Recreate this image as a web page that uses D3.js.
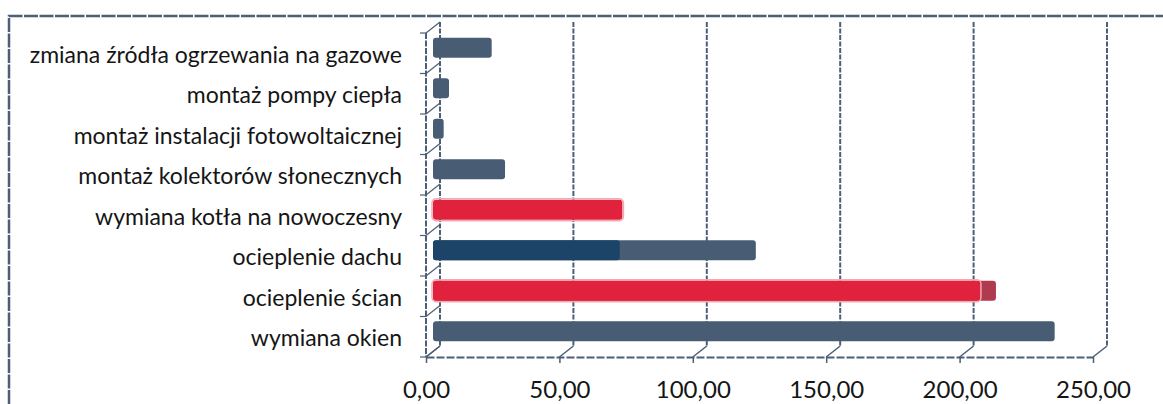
<!DOCTYPE html>
<html>
<head>
<meta charset="utf-8">
<script src="https://cdn.jsdelivr.net/npm/d3@7"></script>
<style>
  html, body { margin: 0; padding: 0; background: #fff; }
  svg { display: block; }
  text { font-family: Lato, "Noto Sans", sans-serif; fill: #151515; }
</style>
</head>
<body>
<svg id="chart" width="1163" height="404"></svg>
<script>
// Categories from top to bottom
const categories = [
  "zmiana źródła ogrzewania na gazowe",
  "montaż pompy ciepła",
  "montaż instalacji fotowoltaicznej",
  "montaż kolektorów słonecznych",
  "wymiana kotła na nowoczesny",
  "ocieplenie dachu",
  "ocieplenie ścian",
  "wymiana okien"
];
// Bar lengths
const values = [22, 6, 4, 27, 71, 121, 211, 233];
// Highlighted inner part of some bars (0 = none)
const highlightValues = [0, 0, 0, 0, 0, 70, 205, 0];

const tickValues = [0, 50, 100, 150, 200, 250];
const tickLabels = ["0,00", "50,00", "100,00", "150,00", "200,00", "250,00"];

const SLATE = "#485d74", RED = "#e0223c", DARK_RED = "#b03a4e", NAVY = "#1c4468";
const barColors = [SLATE, SLATE, SLATE, SLATE, RED, SLATE, DARK_RED, SLATE];
const highlightColors = [null, null, null, null, null, NAVY, RED, null];
const AXIS = "#4b5f76";

const svg = d3.select("#chart");

// 3D-style depth offset between front and back planes
const DX = 14, DY = -11;

// Front plane scales
const xFront = d3.scaleLinear().domain([0, 250]).range([426, 1093]);
const yFront = d3.scaleBand().domain(categories).range([33, 357]);
// Bars sit halfway in depth
const xBar = d3.scaleLinear().domain([0, 250]).range([426 + DX / 2, 1093 + DX / 2]);
const yBar = d3.scaleBand().domain(categories).range([33 + DY / 2, 357 + DY / 2]);
const BAR_H = 20;

// Outer frame (left and top edges)
svg.append("path")
  .attr("d", "M9,404 V16 H1163")
  .attr("fill", "none")
  .attr("stroke", AXIS)
  .attr("stroke-width", 2.5)
  .attr("stroke-dasharray", "14,1.5");

const grid = svg.append("g");
// back wall vertical grid lines
grid.selectAll("line.grid")
  .data(tickValues)
  .join("line")
  .attr("class", "grid")
  .attr("x1", d => xFront(d) + DX).attr("x2", d => xFront(d) + DX)
  .attr("y1", 22).attr("y2", 357 + DY)
  .attr("stroke", AXIS)
  .attr("stroke-width", 2)
  .attr("stroke-dasharray", "5,1.5");

// floor connectors from front ticks to back wall
grid.selectAll("line.floor")
  .data(tickValues)
  .join("line")
  .attr("class", "floor")
  .attr("x1", d => xFront(d)).attr("y1", 357)
  .attr("x2", d => xFront(d) + DX).attr("y2", 357 + DY)
  .attr("stroke", AXIS)
  .attr("stroke-width", 1.5);

// left depth connectors at category boundaries
const bounds = categories.map(c => yFront(c)).concat([yFront.range()[1]]);
grid.selectAll("line.side")
  .data(bounds)
  .join("line")
  .attr("class", "side")
  .attr("x1", 426).attr("y1", d => d)
  .attr("x2", 426 + DX).attr("y2", d => d + DY)
  .attr("stroke", AXIS)
  .attr("stroke-width", 1.2);
grid.selectAll("line.sidetick")
  .data(bounds)
  .join("line")
  .attr("class", "sidetick")
  .attr("x1", 420).attr("y1", d => d)
  .attr("x2", 426).attr("y2", d => d)
  .attr("stroke", AXIS)
  .attr("stroke-width", 1.2);

// Bars
const bars = svg.append("g");
bars.selectAll("rect.bar")
  .data(values)
  .join("rect")
  .attr("class", "bar")
  .attr("x", xBar(0))
  .attr("y", (d, i) => yBar(categories[i]) + yBar.bandwidth() / 2 - BAR_H / 2)
  .attr("width", d => xBar(d) - xBar(0))
  .attr("height", BAR_H)
  .attr("rx", 3)
  .attr("fill", (d, i) => barColors[i]);

bars.selectAll("rect.hl")
  .data(highlightValues.map((v, i) => ({ v, i })).filter(d => d.v > 0))
  .join("rect")
  .attr("class", "hl")
  .attr("x", xBar(0))
  .attr("y", d => yBar(categories[d.i]) + yBar.bandwidth() / 2 - BAR_H / 2)
  .attr("width", d => xBar(d.v) - xBar(0))
  .attr("height", BAR_H)
  .attr("rx", 3)
  .attr("fill", d => highlightColors[d.i]);

// soft pink halo around red bars
bars.selectAll("rect.halo")
  .data(categories.map((c, i) => i).filter(i => barColors[i] === RED || highlightColors[i] === RED))
  .join("rect")
  .attr("class", "halo")
  .attr("x", xBar(0) - 1)
  .attr("y", i => yBar(categories[i]) + yBar.bandwidth() / 2 - BAR_H / 2 - 1)
  .attr("width", i => xBar(barColors[i] === RED ? values[i] : highlightValues[i]) - xBar(0) + 2)
  .attr("height", BAR_H + 2)
  .attr("rx", 4)
  .attr("fill", "none")
  .attr("stroke", "#f2a9b5")
  .attr("stroke-width", 1.5);

// Front left axis with category labels
const yAxis = d3.axisLeft(yFront).tickSize(0).tickPadding(24);
const gy = svg.append("g").attr("transform", "translate(426,2)").call(yAxis);
gy.select(".domain").remove();
gy.selectAll("text").style("font-size", "23px").attr("fill", "#151515");
svg.append("line")
  .attr("x1", 426).attr("x2", 426)
  .attr("y1", 33).attr("y2", 357)
  .attr("stroke", AXIS).attr("stroke-width", 2)
  .attr("stroke-dasharray", "6,1.5");

// Front bottom axis
const xAxis = d3.axisBottom(xFront)
  .tickValues(tickValues)
  .tickFormat((d, i) => tickLabels[i])
  .tickSizeInner(6).tickSizeOuter(0).tickPadding(18);
const gx = svg.append("g").attr("transform", "translate(0,357)").call(xAxis);
gx.select(".domain").attr("stroke", AXIS).attr("stroke-width", 2).attr("stroke-dasharray", "8,2");
gx.selectAll(".tick line").attr("stroke", AXIS).attr("stroke-width", 1.5);
gx.selectAll("text").style("font-size", "24px").attr("fill", "#151515");
</script>
</body>
</html>
